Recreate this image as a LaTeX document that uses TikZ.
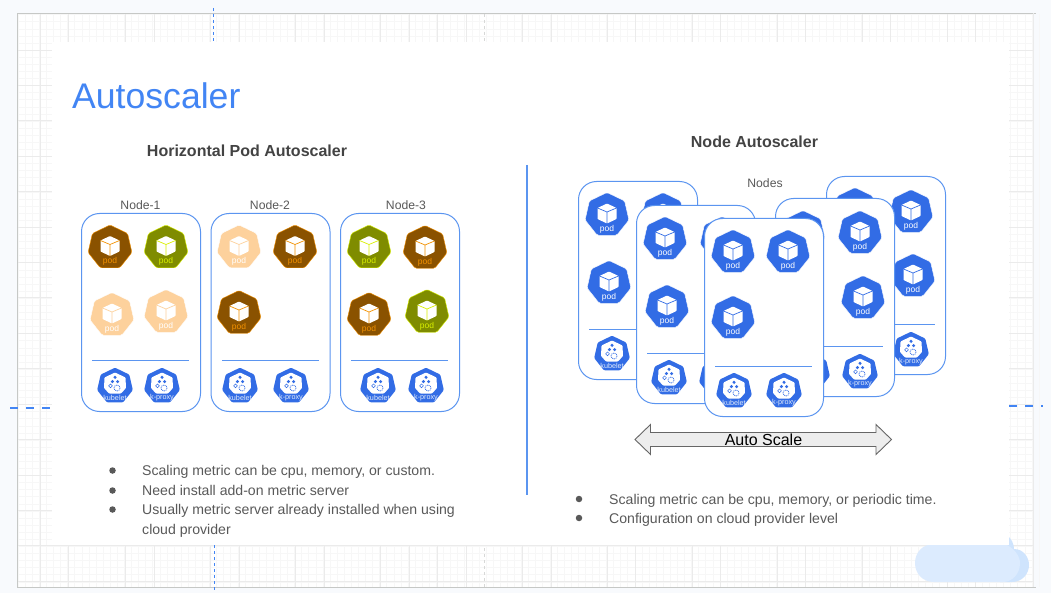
\documentclass[tikz,border=0pt]{standalone}
\usepackage{fontspec}
\setmainfont{Liberation Sans}
\definecolor{pagebg}{HTML}{F8FAFD}
\definecolor{minorgrid}{HTML}{F7F7F7}
\definecolor{majorgrid}{HTML}{EBEBEB}
\definecolor{framegray}{HTML}{C6C8C6}
\definecolor{guideblue}{HTML}{4285F4}
\definecolor{boxblue}{HTML}{5B95F0}
\definecolor{kblue}{HTML}{326CE5}
\definecolor{kpale}{HTML}{E3ECFC}
\definecolor{brownpod}{HTML}{8A5200}
\definecolor{brownacc}{HTML}{F29100}
\definecolor{olivepod}{HTML}{7F8C00}
\definecolor{oliveacc}{HTML}{D9F000}
\definecolor{palepod}{HTML}{FDD19C}
\definecolor{bodytext}{HTML}{595959}
\definecolor{headtext}{HTML}{434343}
\definecolor{bubblefront}{HTML}{DCEBFE}
\definecolor{bubbleback}{HTML}{CFE4FD}
\newcounter{iconid}
\tikzset{
  nodebox/.style={draw=boxblue,line width=1pt,fill=white,rounded corners=18pt,minimum width=119pt,minimum height=198pt,inner sep=0pt},
  sepline/.style={draw=boxblue,line width=1pt},
  smalllabel/.style={inner sep=0pt,text=bodytext,font=\fontsize{12.2}{14}\selectfont},
  bodyline/.style={inner sep=0pt,anchor=base west,text=bodytext,font=\fontsize{14.1}{16}\selectfont},
  bulletdot/.style={circle,fill=bodytext,inner sep=0pt,minimum size=6.5pt},
  heading/.style={inner sep=0pt,text=headtext,font=\fontsize{16}{18}\bfseries\selectfont},
  guidev/.style={draw=guideblue,line width=1pt,dash pattern=on 3pt off 3pt},
  guideh/.style={draw=guideblue,line width=1.5pt,dash pattern=on 8pt off 8pt},
}
% pod icon: x, y, fill, accent, inner line
\newcommand{\podicon}[5]{%
  \stepcounter{iconid}%
  \begin{scope}[shift={(#1,#2)}]
    \draw[fill=#3,draw=#4,line width=0.4pt,rounded corners=1.5pt,line join=round]
      (-90:22.5) -- (-38.57:22.5) -- (12.86:22.5) -- (64.29:22.5) -- (115.71:22.5) -- (167.14:22.5) -- (218.57:22.5) -- cycle;
    \fill[white,rounded corners=0.6pt] (0,-11.5) -- (9.5,-7) -- (9.5,4) -- (0,8.5) -- (-9.5,4) -- (-9.5,-7) -- cycle;
    \draw[#5,line width=0.7pt] (-9.5,-7) -- (0,-3) -- (9.5,-7) (0,-3) -- (0,8.5);
    \node[inner sep=0pt,text=#4,font=\fontsize{8.5}{9}\selectfont] (icon\arabic{iconid}) at (0,14.3) {pod};
  \end{scope}}
% system icon: x, y, label
\newcommand{\sysicon}[3]{%
  \stepcounter{iconid}%
  \begin{scope}[shift={(#1,#2)}]
    \fill[kblue,rounded corners=1.2pt]
      (-90:18.3) -- (-38.57:18.3) -- (12.86:18.3) -- (64.29:18.3) -- (115.71:18.3) -- (167.14:18.3) -- (218.57:18.3) -- cycle;
    \fill[white,rounded corners=0.8pt] (0,-13.5) -- (10.5,-8.5) -- (11,2) -- (6,7.5) -- (-6,7.5) -- (-11,2) -- (-10.5,-8.5) -- cycle;
    \fill[kblue] (0,-8.7) circle (1.7) (-2.6,-4.4) circle (1.7) (2.6,-4.4) circle (1.7);
    \draw[kblue,line width=0.5pt] (-4.5,-0.2) circle (1.9);
    \draw[kblue,line width=0.7pt,dash pattern=on 1pt off 0.8pt] (2,2) circle (3);
    \node[inner sep=0pt,text=kpale,font=\fontsize{7.2}{8}\selectfont] (icon\arabic{iconid}) at (0,11.8) {#3};
  \end{scope}}
\begin{document}
\begin{tikzpicture}[x=1pt,y=-1pt]
\useasboundingbox (0,0) rectangle (1051,593);
\fill[pagebg] (0,0) rectangle (1051,593);
\fill[white] (17.5,13.5) rectangle (1034,587);
% grid
\foreach \i in {0,...,144} \draw[minorgrid,line width=0.5pt] (18+\i*7.09,14) -- (18+\i*7.09,587);
\foreach \i in {0,...,80} \draw[minorgrid,line width=0.5pt] (18,14.6+\i*7.09) -- (1033,14.6+\i*7.09);
\foreach \x in {40.3,68.6,125.7,153.9,210.7,239,295.7,324,380.7,409,437,466,522,551,607,635,692,720,777,805,862,890,947,975}
  \draw[majorgrid,line width=0.6pt] (\x,14) -- (\x,587);
\foreach \y in {50,85.4,120.8,156.2,191.6,227,262.4,297.8,333.2,368.6,404,439.4,474.8,510.2,545.6,581}
  \draw[majorgrid,line width=0.6pt] (18,\y) -- (1033,\y);
\draw[framegray,line width=0.9pt] (1036,13.5) -- (17.5,13.5) -- (17.5,587) -- (1036,587);
\draw[majorgrid,line width=0.9pt] (1033,13.5) -- (1033,587);
\draw[framegray!70,line width=0.7pt,dash pattern=on 3pt off 3pt] (484.5,14) -- (484.5,587);
% bubble
\fill[bubbleback] (1006,535) .. controls (1012,538) and (1014,545) .. (1014,549) .. controls (1024,549) and (1029,558) .. (1029,565) .. controls (1029,574) and (1022,582) .. (1012,582) -- (1000,582) -- (1000,535) -- cycle;
\fill[bubblefront] (934,544) -- (1005,544) .. controls (1014,548) and (1020,556) .. (1020,563) .. controls (1020,574) and (1012,582) .. (1003,582) -- (934,582) .. controls (923,582) and (915,574) .. (915,563) .. controls (915,552) and (923,544) .. (934,544) -- cycle;
% slide
\fill[white] (52,42) rectangle (1009,545);
% guides
\draw[guidev] (213.5,8) -- (213.5,42);
\draw[guidev] (214,545) -- (214,592);
\draw[guideh] (10,408) -- (50,408);
\draw[guideh] (1009,406) -- (1043,406);
% title
\node[inner sep=0pt,anchor=base west,text=guideblue,font=\fontsize{35.6}{40}\selectfont] (title) at (72,108.5) {Autoscaler};
\node[heading] (hpahead) at (247,150.5) {Horizontal Pod Autoscaler};
\node[heading] (nahead) at (754.5,141.5) {Node Autoscaler};
% divider
\draw[boxblue,line width=1.2pt] (527,165) -- (527,495);
% left nodes
\node[smalllabel] (lab1) at (140.5,205) {Node-1};
\node[smalllabel] (lab2) at (270,205) {Node-2};
\node[smalllabel] (lab3) at (406,205) {Node-3};
\node[nodebox,anchor=north west] (n1) at (81,213) {};
\node[nodebox,anchor=north west] (n2) at (210.5,213) {};
\node[nodebox,anchor=north west] (n3) at (340,213) {};
\podicon{110}{247.5}{brownpod}{brownacc}{brownacc}
\podicon{166}{247.5}{olivepod}{oliveacc}{oliveacc}
\podicon{112}{315}{palepod}{white}{palepod}
\podicon{166}{312}{palepod}{white}{palepod}
\podicon{239}{247.5}{palepod}{white}{palepod}
\podicon{295}{247.5}{brownpod}{brownacc}{brownacc}
\podicon{239}{313}{brownpod}{brownacc}{brownacc}
\podicon{369}{247.5}{olivepod}{oliveacc}{oliveacc}
\podicon{425}{248}{brownpod}{brownacc}{brownacc}
\podicon{369}{315}{brownpod}{brownacc}{brownacc}
\podicon{427}{312}{olivepod}{oliveacc}{oliveacc}
\draw[sepline] (92,360.5) -- (189,360.5);
\draw[sepline] (222,360.5) -- (319,360.5);
\draw[sepline] (351,360.5) -- (448,360.5);
\sysicon{115}{386}{kubelet}
\sysicon{162}{386}{k-proxy}
\sysicon{240}{386}{kubelet}
\sysicon{291}{386}{k-proxy}
\sysicon{378}{386}{kubelet}
\sysicon{426}{386}{k-proxy}
% left bullets
\node[bulletdot] (b1) at (112.5,470.5) {};
\node[bulletdot] (b2) at (112.5,490.5) {};
\node[bulletdot] (b3) at (112.5,509.5) {};
\node[bodyline] (t1) at (142,475) {Scaling metric can be cpu, memory, or custom.};
\node[bodyline] (t2) at (142,495) {Need install add-on metric server};
\node[bodyline] (t3) at (142,514) {Usually metric server already installed when using};
\node[bodyline] (t4) at (142,534) {cloud provider};
% right stack
\node[smalllabel] (labn) at (765,183) {Nodes};
\node[nodebox,anchor=north west] (ra) at (578,181) {};
\podicon{607}{215}{kblue}{white}{kblue}
\podicon{663}{215}{kblue}{white}{kblue}
\podicon{609}{283}{kblue}{white}{kblue}
\draw[sepline] (589,329) -- (686,329);
\sysicon{612}{354}{kubelet}
\sysicon{660}{354}{k-proxy}
\node[nodebox,anchor=north west] (re) at (826,176) {};
\podicon{855}{210}{kblue}{white}{kblue}
\podicon{911}{212}{kblue}{white}{kblue}
\podicon{913}{276}{kblue}{white}{kblue}
\draw[sepline] (838,324) -- (935,324);
\sysicon{862}{350}{kubelet}
\sysicon{911}{350}{k-proxy}
\node[nodebox,anchor=north west] (rb) at (636,205) {};
\podicon{665}{239}{kblue}{white}{kblue}
\podicon{722}{239}{kblue}{white}{kblue}
\podicon{667}{307}{kblue}{white}{kblue}
\draw[sepline] (647,353) -- (744,353);
\sysicon{669}{378}{kubelet}
\sysicon{717}{378}{k-proxy}
\node[nodebox,anchor=north west] (rd) at (775,198) {};
\podicon{803}{233}{kblue}{white}{kblue}
\podicon{860}{233}{kblue}{white}{kblue}
\podicon{863}{298}{kblue}{white}{kblue}
\draw[sepline] (786,346) -- (883,346);
\sysicon{812}{372}{kubelet}
\sysicon{860}{372}{k-proxy}
\node[nodebox,anchor=north west] (rc) at (704,218) {};
\podicon{733}{252}{kblue}{white}{kblue}
\podicon{788}{252}{kblue}{white}{kblue}
\podicon{733}{318}{kblue}{white}{kblue}
\draw[sepline] (715,366) -- (812,366);
\sysicon{734}{391}{kubelet}
\sysicon{784}{391}{k-proxy}
% auto scale arrow
\draw[fill=black!7,draw=black!60,line width=0.9pt,line join=miter]
  (635,439.5) -- (650.5,424.5) -- (650.5,432.5) -- (876,432.5) -- (876,424.5) -- (891.5,439.5) -- (876,454.5) -- (876,446.5) -- (650.5,446.5) -- (650.5,454.5) -- cycle;
\node[inner sep=0pt,text=black,font=\fontsize{16}{18}\selectfont] (autoscale) at (763.5,439.5) {Auto Scale};
% right bullets
\node[bulletdot] (b4) at (579,499) {};
\node[bulletdot] (b5) at (579,518) {};
\node[bodyline] (t5) at (609,504) {Scaling metric can be cpu, memory, or periodic time.};
\node[bodyline] (t6) at (609,523) {Configuration on cloud provider level};
\end{tikzpicture}
\end{document}
